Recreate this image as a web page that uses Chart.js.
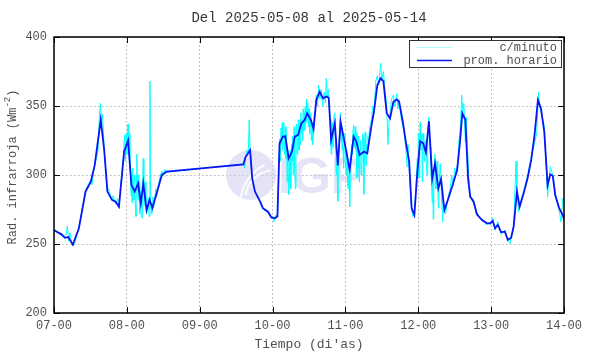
<!DOCTYPE html>
<html>
<head>
<meta charset="utf-8">
<script src="https://cdn.jsdelivr.net/npm/chart.js@4.4.1/dist/chart.umd.min.js"></script>
<style>
  html, body { margin: 0; padding: 0; background: #ffffff; }
  #wrap { width: 590px; height: 354px; }
</style>
</head>
<body>
<div id="wrap"><canvas id="c" width="590" height="354"></canvas></div>
<script>
// ---- Text ----
const titleText = 'Del 2025-05-08 al 2025-05-14';
const xTitle = "Tiempo (di'as)";
const yTitleMain = 'Rad. infrarroja (Wm';
const yTitleSup = '-2';
const yTitleEnd = ')';
const legendLabels = ['c/minuto', 'prom. horario'];

// ---- Tick labels (x axis in hours since 07-00) ----
const dayLabels = ['07-00', '08-00', '09-00', '10-00', '11-00', '12-00', '13-00', '14-00'];
const yTicks = [200, 250, 300, 350, 400];

// ---- Hourly average (prom. horario): time in hours, value in W/m2 ----
const hourlyTime = [
  0, 2.5, 3.6, 4.7, 6.2, 8.2, 10.4, 12.1, 13.4, 15.4, 16.5, 17.6, 19.1, 20.3, 21.4, 23.1,
  24.4, 25.5, 26.6, 27.7, 28.6, 29.4, 30.5, 31.5, 32.4, 34.6, 35.5, 37.1,
  62.4, 63.1, 64.6, 65.3, 66.2, 67.9, 68.8, 70.5, 71.6,
  72.7, 73.6, 74.3, 75.4, 76.2, 77.3, 78.4, 79.3, 80.4, 81.5, 82.6, 83.4, 84.6, 85.5, 86.4, 87.5, 88.6, 89.7, 90.5, 91.3, 92.5, 93.5, 94.4, 95.9,
  97.4, 98.7, 99.6, 100.7, 102.1, 103.2, 104.6, 105.4, 106.5, 107.6, 108.5, 109.6, 110.7, 111.8, 112.9, 113.7, 114.9, 115.9, 117, 117.8, 118.7, 119.7,
  120.6, 121.6, 122.5, 123.5, 124.6, 125.5, 126.6, 127.5, 128.6, 129.9, 131.5, 132.8, 133.7, 134.5, 135.5, 136.4, 137.1, 138.2, 139.3, 141, 142.6, 143.7,
  144.5, 145.3, 146.2, 147.3, 148.5, 149.5, 150.6, 151.4, 152.5, 153.4, 154.7, 156, 157.2, 158.3, 159.4, 160.4, 161.5, 162.6, 163.5, 164.3, 165.1, 166.4, 167.6, 168
];
const hourlyValue = [
  260, 257, 254.5, 255, 249.5, 261.4, 288, 295, 307, 340, 319, 288, 282, 280.6, 277, 317,
  325, 292.8, 288, 294, 279.5, 294, 274.6, 282, 276, 292.8, 300, 302.4,
  307.7, 313, 318, 297.6, 288, 280.7, 276, 273.4, 269.3,
  268.6, 270, 323, 327.8, 328, 312, 317, 327.8, 329, 337.5, 340, 344.7, 340, 333.3, 354.3, 360.4, 355.6, 356.8, 356, 325.4, 337.5, 307, 338.6, 321.7,
  303.6, 327.8, 324, 314.5, 317, 315.7, 336, 346, 365, 370, 368, 344.7, 341, 353, 354.8, 353, 338.6, 324, 309.6, 276, 271, 302.4,
  324.6, 323, 316.4, 339, 297.6, 308.5, 290.3, 297, 274.6, 283, 294, 303.6, 323, 344.7, 340, 297.6, 284.3, 280.7, 271.5, 267.4, 265, 265,
  266.7, 261.4, 263.8, 258.5, 259, 253, 254.6, 262.5, 288, 277, 286.7, 297.6, 310.9, 329, 354.3, 348.3, 331.4, 292.8, 300.5, 299.5, 285.5, 276, 271, 268
];

// ---- Per-minute record (c/minuto), [hour, value] as read from its zig-zag, one list per day ----
const minuteDay07 = [
  [0,261],[1,259],[2,257],[3,255],[4,257],[4.4,263],[4.8,252],[5.3,258],[5.8,251],[6.4,249],[7,252],[8.2,262],[9,272],
  [10.4,289],[11,292],[12,296],[12.5,293],[13.4,308],[14,312],[14.5,318],[15,345],[15.3,352],[15.6,338],[16,344],[16.5,320],
  [17,305],[17.6,288],[18,290],[19,282],[19.5,285],[20.3,279],[21,283],[21.4,276],[22,295],[22.5,300],[22.8,312],[23,322],
  [23.3,329],[23.5,310],[23.8,330]
];
const minuteDay08 = [
  [24,315],[24.2,333],[24.4,337],[24.6,318],[24.8,330],[25,308],[25.2,300],[25.4,285],[25.5,296],[25.7,280],[25.9,305],
  [26.1,290],[26.3,282],[26.5,300],[26.6,295],[26.8,278],[27,270],[27.2,300],[27.3,315],[27.5,290],[27.7,282],[27.9,300],
  [28,295],[28.2,275],[28.3,272],[28.5,288],[28.6,280],[28.8,270],[29,269],[29.2,295],[29.4,312],[29.6,290],[29.7,278],
  [29.9,290],[30,295],[30.3,280],[30.5,272],[30.8,276],[31,283],[31.2,275],[31.3,270],[31.6,368],[31.8,280],[32,276],
  [32.2,272],[32.4,280],[32.6,284],[32.8,276],[33,279],[33.3,286],[33.5,290],[33.8,284],[34,288],[34.3,292],[34.6,295],
  [35,299],[35.5,303],[36,299],[36.5,304],[37.1,302]
];
const minuteDay09 = [
  [62.4,308],[62.8,305],[63.1,313],[63.6,318],[64,316],[64.3,340],[64.6,318],[64.9,308],[65.3,297],[66.2,288],[67,284],
  [67.9,281],[68.8,276],[69.5,274],[70.5,273],[71,271],[71.6,269]
];
const minuteDay10 = [
  [72,270],[72.5,266],[73,271],[73.6,270],
  [74,300],[74.2,318],[74.3,326],[74.5,310],[74.6,320],[74.8,334],[75,322],[75.2,338],[75.3,318],[75.5,332],[75.7,338],
  [75.9,315],[76,325],[76.2,335],[76.4,312],[76.6,330],[76.8,295],[77,318],[77.1,300],[77.3,286],[77.5,310],[77.6,295],
  [77.8,318],[78,290],[78.1,305],[78.3,322],[78.4,310],[78.6,328],[78.8,300],[79,318],[79.1,335],[79.3,305],[79.5,290],
  [79.7,330],[79.9,337],[80.1,315],[80.3,322],[80.5,340],[80.7,318],[80.9,335],[81.1,322],[81.3,345],[81.5,330],[81.7,340],
  [81.9,325],[82.1,348],[82.3,332],[82.5,345],[82.6,333],[82.8,350],[83,338],[83.2,355],[83.4,340],[83.6,352],[83.8,335],
  [84,348],[84.2,330],[84.4,345],[84.6,335],[84.8,325],[85,338],[85.2,322],[85.5,335],[85.8,345],
  [86,345],[86.4,358],[86.8,350],[87.2,365],[87.6,355],[88,362],[88.5,350],[89,360],[89.4,352],[89.7,370],[90,356],
  [90.3,362],[90.6,350],
  [91,340],[91.2,322],[91.3,315],[91.5,330],[91.7,338],[91.9,320],[92,328],[92.2,342],[92.5,345],[92.7,325],[92.8,318],
  [93,300],[93.2,310],[93.4,290],[93.5,281],[93.7,298],[93.8,312],[94,325],[94.1,335],[94.3,345],[94.4,342],[94.6,325],
  [94.7,332],[94.9,318],[95,335],[95.2,320],[95.4,305],[95.6,325],[95.8,330]
];
const minuteDay11 = [
  [96,310],[96.2,300],[96.4,318],[96.6,312],[96.8,292],[97,290],[97.2,300],[97.4,277],[97.6,295],[97.8,308],[98,322],
  [98.2,315],[98.4,330],[98.7,336],[98.9,320],[99,325],[99.2,335],[99.4,318],[99.6,330],[99.8,298],[100,320],[100.2,328],
  [100.4,305],[100.6,295],[100.8,318],[101,325],[101.2,300],[101.4,304],[101.6,330],[101.8,328],[102,300],[102.1,286],
  [102.3,315],[102.5,331],[102.7,320],[102.8,307],[103,322],[103.2,318],[103.4,328],[103.6,325],
  [104,335],[104.6,340],[105,350],[105.4,345],[106,368],[106.5,372],[107,365],[107.6,381],[108,368],[108.5,375],[109,362],
  [109.6,350],[110,322],[110.4,340],[110.7,345],[111.2,355],[111.8,358],[112.3,350],[112.9,359],[113.3,348],[113.7,355],
  [114.3,342],[114.9,335],[115.4,330],[115.9,318],[116.3,306],[116.6,322],[117,305],[117.4,290],[117.8,275],[118.2,270],
  [118.7,272],[119.2,290],[119.4,300],[119.7,312],[119.9,298]
];
const minuteDay12 = [
  [120,330],[120.2,315],[120.3,298],[120.5,325],[120.6,338],[120.8,322],[121,318],[121.2,330],[121.3,295],[121.5,312],
  [121.6,330],[121.8,318],[122,310],[122.2,325],[122.5,322],[122.7,305],[122.9,300],[123.1,325],[123.2,335],[123.4,342],
  [123.5,338],[123.7,328],[123.9,320],[124.1,310],[124.2,300],[124.4,292],[124.6,280],[124.8,300],[124.9,268],[125.1,290],
  [125.2,300],[125.4,312],[125.5,315],[125.7,300],[125.8,290],[126,305],[126.2,310],[126.4,295],[126.6,276],[126.8,292],
  [127,300],[127.2,308],[127.3,305],[127.5,295],[127.6,280],[127.8,290],[128,266],[128.2,280],[128.5,278],
  [129,272],[129.9,285],[130.5,290],[131,300],[131.5,292],[132,305],[132.5,300],[133,310],[133.4,325],[133.7,330],
  [134,340],[134.3,358],[134.6,345],[135,352],[135.5,324],[135.8,342],[136.2,320],[136.6,300],[137.1,285],[138.2,282],
  [139.3,273],[140,270],[141,268],[142,266],[142.6,264],[143.2,266],[143.7,264]
];
const minuteDay13 = [
  [144.5,269],[145.3,260],[146.2,266],[147.3,257],[148.5,260],[149.5,252],[150.3,250.5],[150.6,256],[151.4,262],
  [152.2,310],[152.5,290],[153,273],[153.4,279],[154.7,288],[156,300],[157.2,313],[158.3,323],[159,330],[159.3,345],
  [159.6,360],[160,350],[160.4,346],[161.5,335],[162.3,300],[162.6,284],[163,296],[163.5,306],[164.3,300],[165,290],
  [165.5,282],[166.4,275],[167,266],[167.6,283],[168,276]
];

// ---- Styles ----
const FONT = "'Liberation Mono', 'DejaVu Sans Mono', monospace";
const TEXT_GREY = '#505050';
const CYAN = '#00ffff';
const BLUE = '#0a14f5';

const framePlugin = {
  id: 'frame',
  beforeDatasetsDraw(chart) {
    // faint IGP watermark
    const ctx = chart.ctx;
    ctx.save();
    ctx.fillStyle = 'rgba(205,205,238,0.55)';
    ctx.beginPath();
    ctx.arc(251, 175, 25, 0, Math.PI * 2);
    ctx.fill();
    ctx.strokeStyle = 'rgba(255,255,255,0.9)';
    ctx.lineWidth = 2;
    ctx.beginPath();
    ctx.arc(275, 200, 30, Math.PI * 1.05, Math.PI * 1.45);
    ctx.stroke();
    ctx.beginPath();
    ctx.arc(285, 205, 45, Math.PI * 1.02, Math.PI * 1.35);
    ctx.stroke();
    ctx.fillStyle = 'rgba(205,205,238,0.55)';
    ctx.font = "bold 50px 'Liberation Sans', Arial, sans-serif";
    ctx.textAlign = 'left';
    ctx.textBaseline = 'alphabetic';
    ctx.fillText('IGP', 278, 193);
    ctx.restore();
  },
  afterDraw(chart) {
    const ctx = chart.ctx;
    const a = chart.chartArea;
    const xs = chart.scales.x, ys = chart.scales.y;
    ctx.save();
    // frame
    ctx.strokeStyle = '#000';
    ctx.lineWidth = 1.5;
    ctx.strokeRect(a.left, a.top, a.right - a.left, a.bottom - a.top);
    // inward tick marks
    ctx.lineWidth = 1;
    ctx.beginPath();
    yTicks.forEach(v => {
      const y = Math.round(ys.getPixelForValue(v)) + 0.5;
      ctx.moveTo(a.left, y); ctx.lineTo(a.left + 6, y);
      ctx.moveTo(a.right, y); ctx.lineTo(a.right - 6, y);
    });
    dayLabels.forEach((_, i) => {
      const x = Math.round(xs.getPixelForValue(i * 24)) + 0.5;
      ctx.moveTo(x, a.bottom); ctx.lineTo(x, a.bottom - 6);
      ctx.moveTo(x, a.top); ctx.lineTo(x, a.top + 6);
    });
    ctx.stroke();

    // legend box
    const bx = 409, by = 40, bw = 152, bh = 27;
    ctx.fillStyle = '#fff';
    ctx.fillRect(bx, by, bw, bh);
    ctx.strokeStyle = '#333';
    ctx.lineWidth = 1;
    ctx.strokeRect(bx + 0.5, by + 0.5, bw, bh);
    ctx.lineWidth = 1;
    ctx.strokeStyle = '#a8ffff';
    ctx.beginPath(); ctx.moveTo(417, 47.5); ctx.lineTo(452, 47.5); ctx.stroke();
    ctx.lineWidth = 1.6;
    ctx.strokeStyle = BLUE;
    ctx.beginPath(); ctx.moveTo(417, 60.5); ctx.lineTo(452, 60.5); ctx.stroke();
    ctx.font = '12px ' + FONT;
    ctx.fillStyle = TEXT_GREY;
    ctx.textAlign = 'right';
    ctx.textBaseline = 'middle';
    ctx.fillText(legendLabels[0], 557, 48);
    ctx.fillText(legendLabels[1], 557, 61);

    // title
    ctx.font = '14px ' + FONT;
    ctx.fillStyle = '#383838';
    ctx.textAlign = 'center';
    ctx.fillText(titleText, (a.left + a.right) / 2, 18);

    // x title
    ctx.font = '13px ' + FONT;
    ctx.fillStyle = TEXT_GREY;
    ctx.fillText(xTitle, (a.left + a.right) / 2, 345);

    // y title (rotated, with superscript)
    ctx.translate(13, 167);
    ctx.rotate(-Math.PI / 2);
    ctx.font = '12px ' + FONT;
    const w1 = ctx.measureText(yTitleMain).width;
    ctx.font = '9px ' + FONT;
    const w2 = ctx.measureText(yTitleSup).width;
    ctx.font = '12px ' + FONT;
    const w3 = ctx.measureText(yTitleEnd).width;
    const x0 = -(w1 + w2 + w3) / 2;
    ctx.textAlign = 'left';
    ctx.fillText(yTitleMain, x0, 0);
    ctx.font = '9px ' + FONT;
    ctx.fillText(yTitleSup, x0 + w1, -5);
    ctx.font = '12px ' + FONT;
    ctx.fillText(yTitleEnd, x0 + w1 + w2, 0);
    ctx.restore();
  }
};

const minuteRecord = [].concat(minuteDay07, minuteDay08, minuteDay09, minuteDay10, minuteDay11, minuteDay12, minuteDay13);

new Chart(document.getElementById('c'), {
  type: 'line',
  data: {
    datasets: [
      {
        label: legendLabels[1],
        data: hourlyTime.map((t, i) => ({ x: t, y: hourlyValue[i] })),
        borderColor: BLUE,
        borderWidth: 1.8,
        pointRadius: 0,
        tension: 0,
        order: 0
      },
      {
        label: legendLabels[0],
        data: minuteRecord.map(p => ({ x: p[0], y: p[1] })),
        borderColor: CYAN,
        borderWidth: 1,
        pointRadius: 0,
        tension: 0,
        order: 1
      }
    ]
  },
  options: {
    responsive: false,
    animation: false,
    devicePixelRatio: 1,
    layout: { padding: { left: 0, right: 26, top: 37, bottom: 0 } },
    plugins: { legend: { display: false }, title: { display: false }, tooltip: { enabled: false } },
    scales: {
      x: {
        type: 'linear',
        min: 0, max: 168,
        afterBuildTicks: s => { s.ticks = dayLabels.map((_, i) => ({ value: i * 24 })); },
        afterFit: s => { s.height = 41; },
        ticks: {
          callback: (v, i) => dayLabels[i],
          font: { family: FONT, size: 12 },
          color: TEXT_GREY,
          padding: 6,
          maxRotation: 0,
          autoSkip: false
        },
        grid: { color: '#b0b0b0', lineWidth: 1, drawTicks: false },
        border: { display: false, dash: [1.5, 2.5] }
      },
      y: {
        min: 200, max: 400,
        afterBuildTicks: s => { s.ticks = yTicks.map(v => ({ value: v })); },
        afterFit: s => { s.width = 54; },
        ticks: {
          callback: v => String(v),
          font: { family: FONT, size: 12 },
          color: TEXT_GREY,
          padding: 7
        },
        grid: { color: '#b0b0b0', lineWidth: 1, drawTicks: false },
        border: { display: false, dash: [1.5, 2.5] }
      }
    }
  },
  plugins: [framePlugin]
});
</script>
</body>
</html>
